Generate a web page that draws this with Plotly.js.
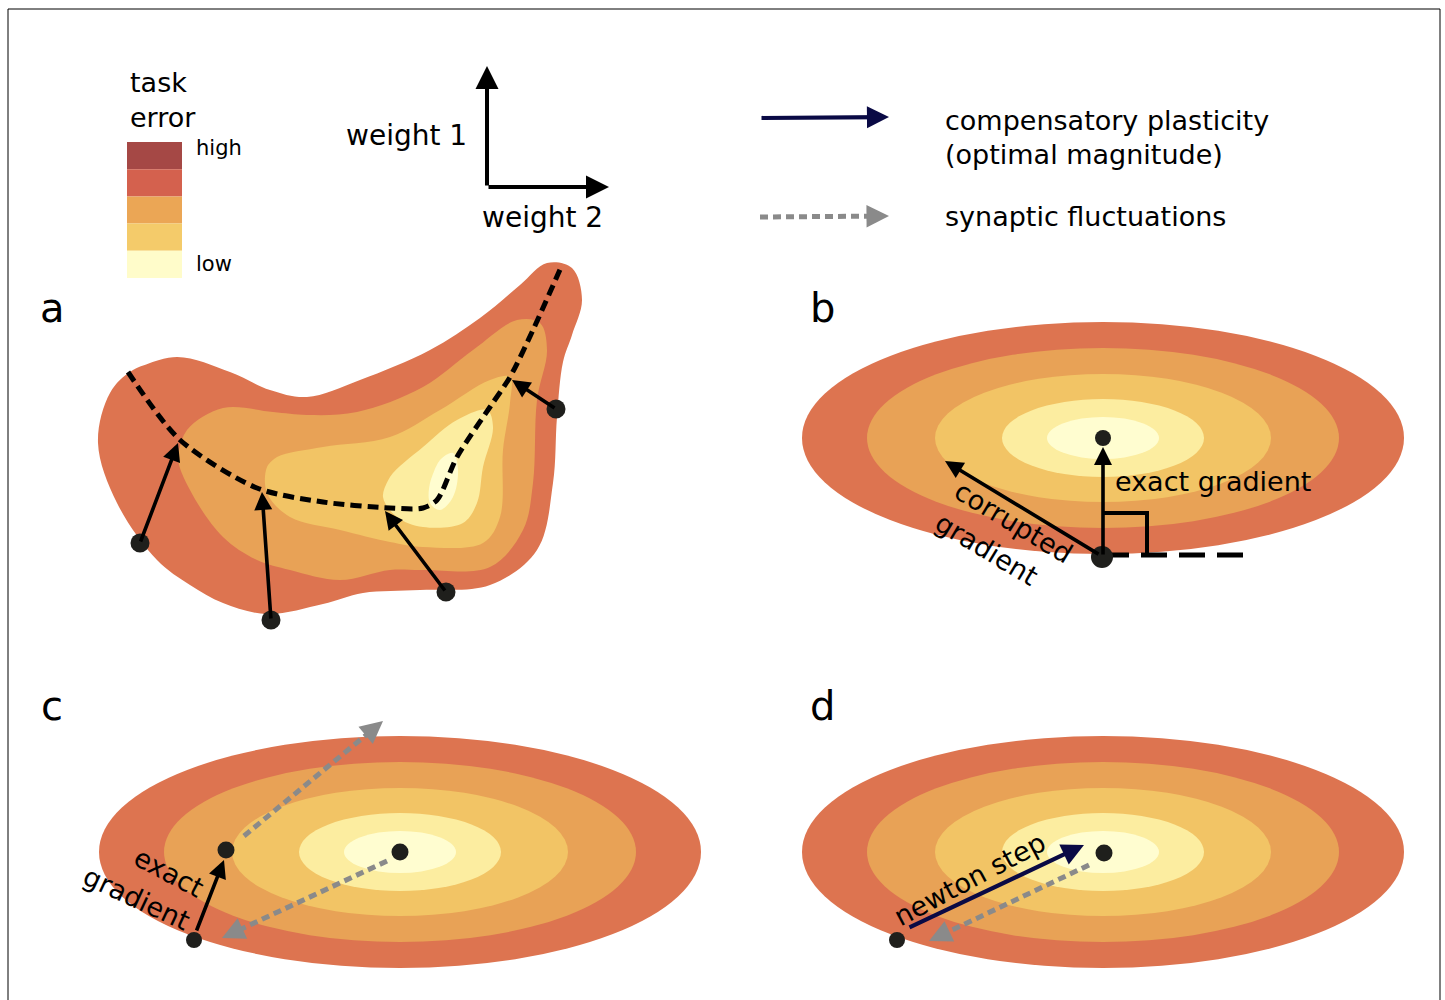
<!DOCTYPE html>
<html><head><meta charset="utf-8">
<script src="https://cdn.plot.ly/plotly-3.0.1.min.js"></script>
<style>html,body{margin:0;padding:0;background:#fff}#chart{width:1445px;height:1000px}</style>
</head><body><div id="chart"></div>
<script>
// ---------- data ----------
// task-error legend
const errLabels = ['high', '', '', '', 'low'];
const errLabelY = [148, 0, 0, 0, 264];
const errColors = ['#A54845', '#D4614E', '#EBA655', '#F4CB6A', '#FFFCCA'];
// contour colours (outer -> inner)
const ringColors = ['#DD7450', '#E8A256', '#F2C465', '#FCEDA0', '#FFFDD0'];
// quadratic-bowl contour half-widths / half-heights (panels b, c, d)
const ringRx = [301, 236, 168, 101, 56];
const ringRy = [116, 90, 64, 39, 21];
const bowlCentersX = [1103, 400, 1103];
const bowlCentersY = [438, 852, 852];

// panel a contour outlines
const blobOuter = [[133,370],[177,357],[230,372],[270,390],[307,397],[360,380],[430,350],[480,318],[520,285],[547,263],[572,268],[582,300],[572,335],[563,362],[557,417],[553,483],[537,550],[490,585],[420,590],[363,593],[323,604],[267,614],[223,603],[190,585],[157,560],[117,503],[98,443],[110,393]];
const blobOrange = [[178,457],[187,430],[223,408],[273,412],[307,415],[357,412],[423,387],[473,350],[517,320],[540,323],[547,350],[537,400],[533,483],[523,530],[490,567],[423,570],[390,570],[340,580],[290,570],[257,560],[223,537],[190,490]];
const blobYellow = [[267,467],[277,457],[323,447],[390,437],[440,410],[490,380],[510,377],[510,403],[503,450],[500,517],[483,543],[423,547],[390,542],[340,530],[290,517],[267,493]];
const blobLight = [[383,497],[390,477],[423,447],[457,420],[487,410],[493,427],[483,467],[477,503],[463,523],[423,527],[397,517]];
const blobInner = [[430,483],[440,460],[453,453],[458,470],[453,497],[440,510],[430,503]];
const valleyPath = [[128,372],[180,440],[257,488],[323,502],[390,508],[423,508],[437,500],[457,457],[490,407],[510,377],[533,330],[562,265]];

// dots (weights)
const dotX = [140, 271, 446, 556, 1103, 1102, 226, 194, 400, 1104, 897];
const dotY = [543, 620, 592, 409, 438, 557, 850, 940, 852, 853, 940];
const dotSize = [19, 19, 19, 19, 16, 22, 17, 16, 17, 17, 16];

// black arrows: tails and tips
const blackTails = [[487,187],[487,187],[140,543],[271,620],[446,592],[556,409],[1103,556],[1100,555],[196,932]];
const blackTips  = [[487,66],[609,187],[178,443],[262,492],[385,511],[512,380],[1103,447],[945,461],[224,860]];
// navy arrows (compensatory plasticity)
const navyTails = [[760,118],[908,928]];
const navyTips  = [[889,117],[1084,845]];
// grey dotted arrows (synaptic fluctuations)
const greyTails = [[760,217],[244,836],[387,861],[1089,865]];
const greyTips  = [[889,216],[383,721],[222,938],[929,941]];

// right-angle marker and tangent line in panel b
const rightAngle = [[1103,513],[1147,513],[1147,556]];
const tangentLine = [[1103,555],[1247,555]];

// text labels
const textLabels = ['task', 'error', 'weight 1', 'weight 2', 'compensatory plasticity', '(optimal magnitude)', 'synaptic fluctuations', 'exact gradient', 'corrupted', 'gradient', 'exact', 'gradient', 'newton step'];
const textX = [128, 128, 469, 542, 943, 943, 943, 1113, 1014, 987, 169, 137, 969];
const textY = [82, 117, 135, 217, 120, 154, 216, 481, 522, 549, 872, 898, 879];
const textAngle = [0, 0, 0, 0, 0, 0, 0, 0, 31, 31, 28, 25, -28];
const textAnchor = ['left', 'left', 'right', 'center', 'left', 'left', 'left', 'left', 'center', 'center', 'center', 'center', 'center'];
const textSize = [27, 27, 28, 28, 27, 27, 27, 27, 27, 27, 27, 27, 27];
const panelLetters = ['a', 'b', 'c', 'd'];
const panelX = [52, 822, 52, 822];
const panelY = [308, 308, 706, 706];

// ---------- build ----------
const FONT = 'Verdana, DejaVu Sans, sans-serif';
const traces = [];
const shapes = [];
const annotations = [];

// frame
shapes.push({type:'rect', xref:'x', yref:'y', x0:8, x1:1440, y0:9, y1:1010, line:{color:'#000', width:1}, fillcolor:'rgba(0,0,0,0)', layer:'below'});

// legend swatches
const swTop = 142, swH = 27.2;
errColors.forEach((c, i) => {
  shapes.push({type:'rect', xref:'x', yref:'y', x0:127, x1:182, y0:swTop + i*swH, y1:swTop + (i+1)*swH, line:{width:0}, fillcolor:c, layer:'below'});
  if (errLabels[i]) {
    annotations.push({x:194, y:errLabelY[i], xref:'x', yref:'y', text:errLabels[i], showarrow:false, xanchor:'left', yanchor:'middle', font:{family:FONT, size:21, color:'#000'}});
  }
});

// bowls (ellipses)
bowlCentersX.forEach((cx, b) => {
  const cy = bowlCentersY[b];
  ringRx.forEach((rx, i) => {
    const ry = ringRy[i];
    shapes.push({type:'circle', xref:'x', yref:'y', x0:cx-rx, x1:cx+rx, y0:cy-ry, y1:cy+ry, line:{width:0}, fillcolor:ringColors[i], layer:'below'});
  });
});

// panel a blobs
[blobOuter, blobOrange, blobYellow, blobLight, blobInner].forEach((pts, i) => {
  const xs = pts.map(p => p[0]); const ys = pts.map(p => p[1]);
  xs.push(pts[0][0], pts[1][0]); ys.push(pts[0][1], pts[1][1]);
  traces.push({type:'scatter', mode:'lines', x:xs, y:ys, fill:'toself', fillcolor:ringColors[i], line:{shape:'spline', smoothing:1, width:0, color:ringColors[i]}, hoverinfo:'skip'});
});

// valley dashed path
traces.push({type:'scatter', mode:'lines', x:valleyPath.map(p=>p[0]), y:valleyPath.map(p=>p[1]), line:{shape:'spline', smoothing:0.8, width:5, color:'#000', dash:'11px,6px'}, hoverinfo:'skip'});

// right angle + tangent
traces.push({type:'scatter', mode:'lines', x:tangentLine.map(p=>p[0]), y:tangentLine.map(p=>p[1]), line:{width:5, color:'#000', dash:'26px,12px'}, hoverinfo:'skip'});
traces.push({type:'scatter', mode:'lines', x:rightAngle.map(p=>p[0]), y:rightAngle.map(p=>p[1]), line:{width:4, color:'#000'}, hoverinfo:'skip'});

// grey dotted shafts
const greyHead = 16;
greyTails.forEach((t, i) => {
  const h = greyTips[i];
  const dx = h[0]-t[0], dy = h[1]-t[1], L = Math.hypot(dx, dy);
  const bx = h[0] - dx/L*greyHead, by = h[1] - dy/L*greyHead;
  traces.push({type:'scatter', mode:'lines', x:[t[0], bx], y:[t[1], by], line:{width:5, color:'#8A8A8A', dash:'8px,5px'}, hoverinfo:'skip'});
  annotations.push({x:h[0], y:h[1], ax:bx, ay:by, xref:'x', yref:'y', axref:'x', ayref:'y', text:'', showarrow:true, arrowhead:2, arrowsize:1.0, arrowwidth:4.5, arrowcolor:'#8A8A8A', standoff:0, startstandoff:0});
});

// dots
traces.push({type:'scatter', mode:'markers', x:dotX, y:dotY, opacity:1, marker:{size:dotSize, opacity:1, color:'#1f1f1c', line:{width:0}}, hoverinfo:'skip'});

// solid arrows
function arrow(t, h, color, w, s) {
  return {x:h[0], y:h[1], ax:t[0], ay:t[1], xref:'x', yref:'y', axref:'x', ayref:'y', text:'', showarrow:true, arrowhead:2, arrowsize:s, arrowwidth:w, arrowcolor:color, standoff:0, startstandoff:0};
}
blackTails.forEach((t, i) => annotations.push(arrow(t, blackTips[i], '#000', i < 2 ? 4 : 3.6, i < 2 ? 1.15 : 1.0)));
navyTails.forEach((t, i) => annotations.push(arrow(t, navyTips[i], '#0A0A45', 4.2, 1.05)));

// texts
textLabels.forEach((s, i) => {
  annotations.push({x:textX[i], y:textY[i], xref:'x', yref:'y', text:s, showarrow:false, xanchor:textAnchor[i], yanchor:'middle', textangle:textAngle[i], font:{family:FONT, size:textSize[i], color:'#000'}});
});
panelLetters.forEach((s, i) => {
  annotations.push({x:panelX[i], y:panelY[i], xref:'x', yref:'y', text:s, showarrow:false, xanchor:'center', yanchor:'middle', font:{family:FONT, size:40, color:'#000'}});
});

const layout = {
  width:1445, height:1000, margin:{l:0, r:0, t:0, b:0},
  paper_bgcolor:'#fff', plot_bgcolor:'#fff', showlegend:false,
  xaxis:{range:[0,1445], visible:false, fixedrange:true},
  yaxis:{range:[1000,0], visible:false, fixedrange:true},
  shapes:shapes, annotations:annotations
};
Plotly.newPlot('chart', traces, layout, {staticPlot:true, displayModeBar:false});
</script></body></html>
